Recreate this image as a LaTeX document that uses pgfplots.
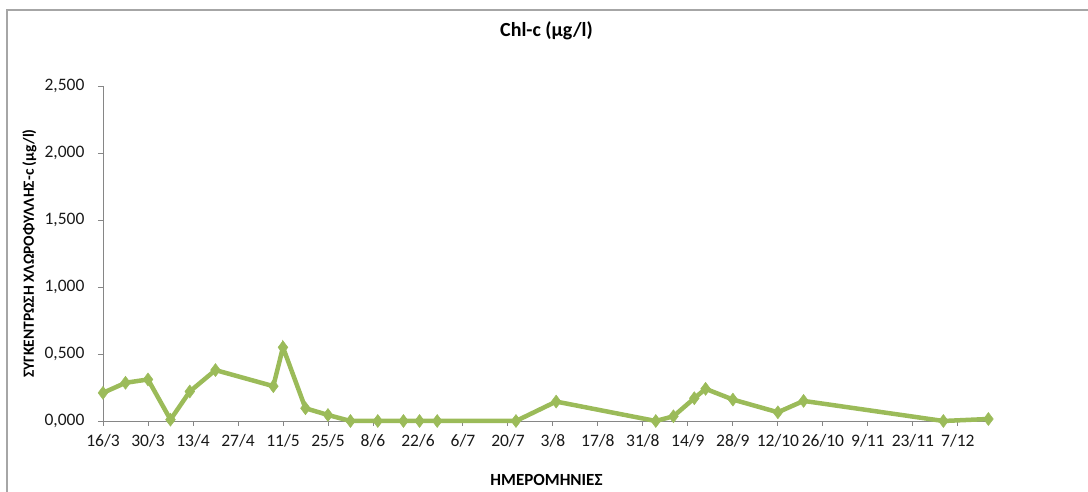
\documentclass[border=0pt]{standalone}
\usepackage{fontspec}
\setmainfont{Carlito}
\usepackage{pgfplots}
\pgfplotsset{compat=1.18}
\definecolor{chlgreen}{HTML}{9BBB59}
\definecolor{axgray}{HTML}{868686}
\begin{document}
\begin{tikzpicture}[x=1pt,y=1pt]
\path[use as bounding box] (0,0) rectangle (1088,492);
\draw[color=black!35, line width=1.6pt] (7,-10) -- (7,482) -- (1100,482);
\begin{axis}[
  at={(103pt,71pt)}, anchor=south west,
  scale only axis, width=887pt, height=335pt,
  xmin=0, xmax=276, ymin=0, ymax=2.5,
  axis x line*=bottom, axis y line*=left,
  axis line style={axgray, line width=0.9pt, -},
  tick align=outside, major tick length=5pt,
  tick style={axgray, line width=0.9pt},
  xtick={0,14,...,266},
  xticklabels={16/3,30/3,13/4,27/4,11/5,25/5,8/6,22/6,6/7,20/7,3/8,17/8,31/8,14/9,28/9,12/10,26/10,9/11,23/11,7/12},
  ytick={0,0.5,1,1.5,2,2.5},
  yticklabel style={xshift=-10pt, /pgf/number format/.cd, fixed, fixed zerofill, precision=3, use comma},
  /pgf/number format/assume math mode=true,
  ticklabel style={font=\fontsize{17.5}{20}\selectfont, text=black!90},
  xticklabel style={yshift=-5pt},
  title={\textbf{Chl-c (μg/l)}},
  title style={at={(axis description cs:0.5,1.148)}, anchor=center, font=\fontsize{20}{23}\selectfont},
  xlabel={\textbf{ΗΜΕΡΟΜΗΝΙΕΣ}},
  xlabel style={at={(axis description cs:0.5,-0.176)}, anchor=center, font=\fontsize{17}{20}\selectfont},
  ylabel={\textbf{ΣΥΓΚΕΝΤΡΩΣΗ ΧΛΩΡΟΦΥΛΛΗΣ-c (μg/l)}},
  ylabel style={at={(axis description cs:-0.083,0.5)}, anchor=center, font=\fontsize{15.5}{18}\selectfont},
  clip=false,
]
\addplot[color=chlgreen, line width=4.5pt, mark=diamond*, mark size=6.5pt, mark options={solid, fill=chlgreen, line width=0.5pt}] table {
x y
0 0.21
7 0.285
14 0.31
21 0.01
27 0.22
35 0.38
53 0.26
56 0.55
63 0.095
70 0.045
77 0.0
85.5 0.0
93.5 0.0
98.5 0.0
104 0.0
128.5 0.0
141 0.145
172 0.0
177.5 0.035
184 0.17
187.5 0.24
196 0.16
210 0.065
218 0.15
261.5 0.0
275.5 0.015
};
\end{axis}
\end{tikzpicture}
\end{document}
